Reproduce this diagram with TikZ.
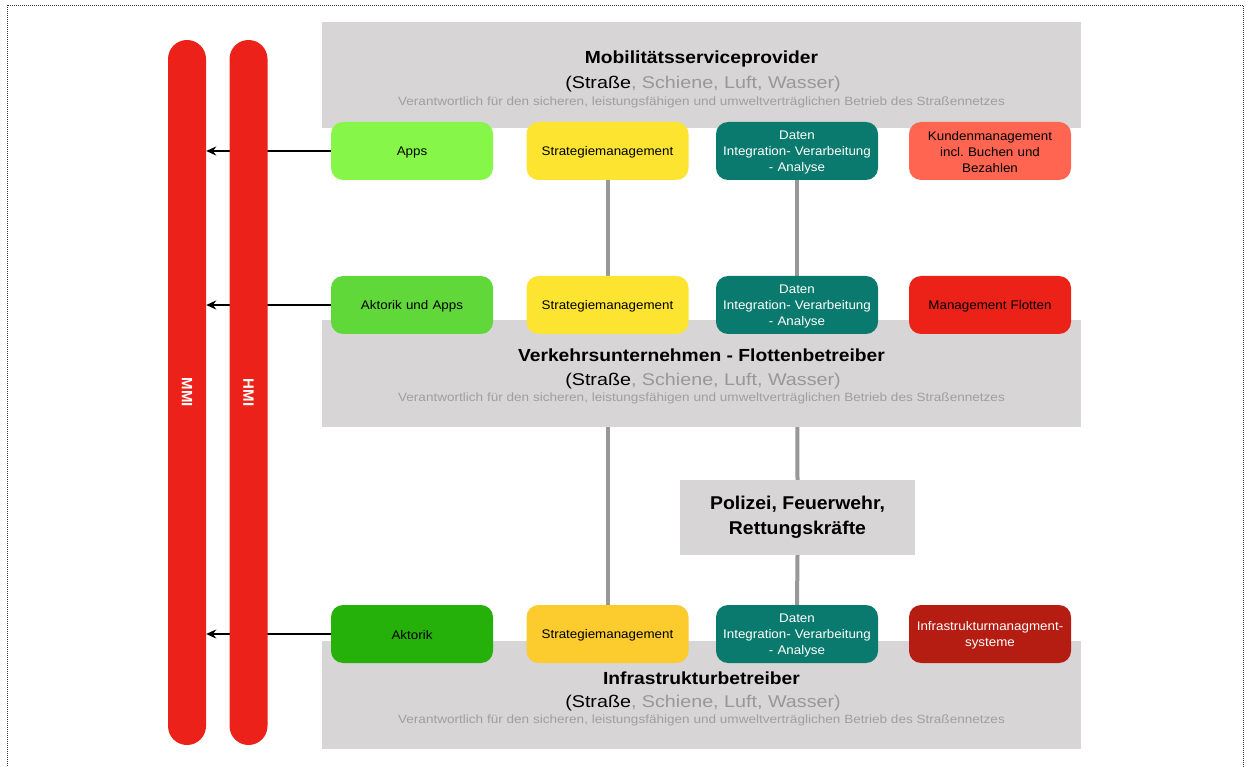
\documentclass[tikz,border=0pt]{standalone}
\usepackage{fontspec}
\setmainfont{Liberation Sans}
\newfontfamily\titlefam[FakeStretch=1.1]{Liberation Sans}
\newfontfamily\subfam[FakeStretch=1.16]{Liberation Sans}
\newfontfamily\notefam[FakeStretch=1.13]{Liberation Sans}
\newfontfamily\unitfam[FakeStretch=1.07]{Liberation Sans}
\newfontfamily\polfam[FakeStretch=1.05]{Liberation Sans}
\usetikzlibrary{arrows.meta}
\frenchspacing

\definecolor{panelgray}{RGB}{216,213,214}
\definecolor{linkgray}{RGB}{152,152,152}
\definecolor{subgray}{RGB}{152,152,152}
\definecolor{notegray}{RGB}{160,158,159}
\definecolor{barred}{RGB}{236,33,25}
\definecolor{appsgreen}{RGB}{134,247,72}
\definecolor{midgreen}{RGB}{96,216,58}
\definecolor{darkgreen}{RGB}{38,176,10}
\definecolor{stratyellow}{RGB}{252,228,49}
\definecolor{stratorange}{RGB}{252,203,45}
\definecolor{datateal}{RGB}{10,122,110}
\definecolor{salmon}{RGB}{255,101,80}
\definecolor{fleetred}{RGB}{236,33,24}
\definecolor{infrared}{RGB}{181,29,18}

\tikzset{
  panel/.style={fill=panelgray, draw=none, minimum width=759pt, inner sep=0pt},
  ptitle/.style={font=\titlefam\fontsize{17.5}{20}\selectfont\bfseries, inner sep=0pt},
  psub/.style={font=\subfam\fontsize{17}{19}\selectfont, text=subgray, inner sep=0pt},
  pnote/.style={font=\notefam\fontsize{12}{14}\selectfont, text=notegray, inner sep=0pt},
  unit/.style={rounded corners=12pt, minimum width=162pt, minimum height=58pt,
    inner sep=2pt, align=center, text width=156pt,
    font=\unitfam\fontsize{12.5}{16}\selectfont},
  unittext/.style={yshift=-1.5pt},
  bar/.style={fill=barred, draw=none, rounded corners=19pt, minimum width=38pt,
    minimum height=705pt, inner sep=0pt},
  barlabel/.style={rotate=-90, text=white, font=\fontsize{15}{17}\selectfont\bfseries},
  link/.style={draw=linkgray, line width=4pt},
  feed/.style={draw=black, line width=1.6pt, -{Stealth[length=10pt,width=9pt]}},
  frame/.style={draw=black!80, line width=0.8pt, dash pattern=on 1pt off 1pt}
}

\newcommand{\panelsub}{\textcolor{black}{(Straße}, Schiene, Luft, Wasser)}
\newcommand{\panelnote}{Verantwortlich für den sicheren, leistungsfähigen und umweltverträglichen Betrieb des Straßennetzes}

\begin{document}
\begin{tikzpicture}[x=1pt,y=-1pt]
\useasboundingbox (0,0) rectangle (1251,767);
\fill[white] (0,0) rectangle (1251,767);
\draw[frame] (7,5) rectangle (1243,790);

% unit box outlines (named), filled later on top of the links
\path
  (412,151)   node[unit] (apps) {}
  (607.5,151) node[unit] (s1) {}
  (797,151)   node[unit] (d1) {}
  (990,151)   node[unit] (k1) {}
  (412,305)   node[unit] (aa) {}
  (607.5,305) node[unit] (s2) {}
  (797,305)   node[unit] (d2) {}
  (990,305)   node[unit] (f2) {}
  (412,634)   node[unit] (ak) {}
  (607.5,634) node[unit] (s3) {}
  (797,634)   node[unit] (d3) {}
  (990,634)   node[unit] (i3) {};

\node[fill=panelgray, minimum width=235pt, minimum height=75pt, inner sep=0pt,
  align=center, font=\polfam\fontsize{18.5}{25}\selectfont\bfseries] (pol) at (797.5,517.5)
  {Polizei, Feuerwehr,\\Rettungskräfte};

% vertical links
\draw[link] (s1.south) -- (s2.north);
\draw[link] (s2.south) -- (s3.north);
\draw[link] (d1.south) -- (d2.north);
\draw[link] (d2.south) -- (pol.north);
\draw[link] (pol.south) -- (d3.north);

% layer panels
\node[panel, minimum height=106pt] (pmsp) at (701.5,75) {};
\node[panel, minimum height=107pt] (pvu) at (701.5,373.5) {};
\node[panel, minimum height=108pt] (pinf) at (701.5,695) {};

\node[ptitle] (tmsp) at (701.5,59) {Mobilitätsserviceprovider};
\node[psub] (smsp) at (703,84) {\panelsub};
\node[pnote] (nmsp) at (701.5,102.5) {\panelnote};

\node[ptitle] (tvu) at (701.5,355) {Verkehrsunternehmen - Flottenbetreiber};
\node[psub] (svu) at (703,381) {\panelsub};
\node[pnote] (nvu) at (701.5,398.5) {\panelnote};

\node[ptitle] (tinf) at (701.5,678) {Infrastrukturbetreiber};
\node[psub] (sinf) at (703,703) {\panelsub};
\node[pnote] (ninf) at (701.5,720.5) {\panelnote};

% filled unit boxes
\node[unit, fill=appsgreen] at (apps) {};
\node[unit, fill=stratyellow] at (s1) {};
\node[unit, fill=datateal] at (d1) {};
\node[unit, fill=salmon] at (k1) {};
\node[unit, fill=midgreen] at (aa) {};
\node[unit, fill=stratyellow] at (s2) {};
\node[unit, fill=datateal] at (d2) {};
\node[unit, fill=fleetred] at (f2) {};
\node[unit, fill=darkgreen] at (ak) {};
\node[unit, fill=stratorange] at (s3) {};
\node[unit, fill=datateal] at (d3) {};
\node[unit, fill=infrared] at (i3) {};

% unit labels
\node[unit, unittext] at (apps) {Apps};
\node[unit, unittext] at (s1) {Strategiemanagement};
\node[unit, unittext, text=white] at (d1) {Daten\\Integration- Verarbeitung\\- Analyse};
\node[unit, unittext] at (k1) {Kundenmanagement\\incl. Buchen und\\Bezahlen};
\node[unit, unittext] at (aa) {Aktorik und Apps};
\node[unit, unittext] at (s2) {Strategiemanagement};
\node[unit, unittext, text=white] at (d2) {Daten\\Integration- Verarbeitung\\- Analyse};
\node[unit, unittext] at (f2) {Management Flotten};
\node[unit, unittext] at (ak) {Aktorik};
\node[unit, unittext] at (s3) {Strategiemanagement};
\node[unit, unittext, text=white] at (d3) {Daten\\Integration- Verarbeitung\\- Analyse};
\node[unit, unittext, text=white] at (i3) {Infrastrukturmanagment-\\systeme};

% interface bars and feeds
\node[bar] (mmi) at (187,392.5) {};
\coordinate (c1) at (mmi.east |- apps.west);
\coordinate (c2) at (mmi.east |- aa.west);
\coordinate (c3) at (mmi.east |- ak.west);
\draw[feed] (apps.west) -- (c1);
\draw[feed] (aa.west) -- (c2);
\draw[feed] (ak.west) -- (c3);
\node[bar] (hmi) at (248.5,392.5) {};
\node[barlabel] at (mmi) {MMI};
\node[barlabel] at (hmi) {HMI};
\end{tikzpicture}
\end{document}
